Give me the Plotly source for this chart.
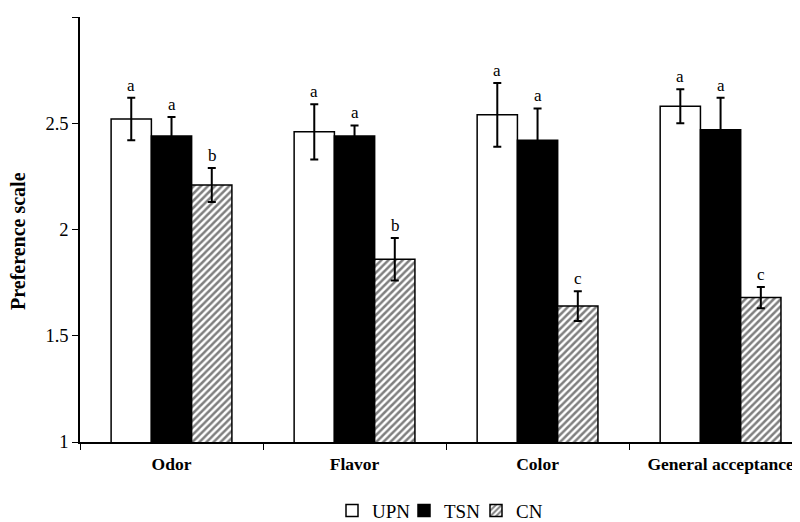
import plotly.graph_objects as go

categories = ["Odor", "Flavor", "Color", "General acceptance"]
upn = [2.52, 2.46, 2.54, 2.58]
upn_err = [0.10, 0.13, 0.15, 0.08]
tsn = [2.44, 2.44, 2.42, 2.47]
tsn_err = [0.09, 0.05, 0.15, 0.15]
cn = [2.21, 1.86, 1.64, 1.68]
cn_err = [0.08, 0.10, 0.07, 0.05]
upn_letters = ["a", "a", "a", "a"]
tsn_letters = ["a", "a", "a", "a"]
cn_letters = ["b", "b", "c", "c"]

FONT = "Liberation Serif"

def err(arr):
    return dict(type="data", array=arr, visible=True, color="black", thickness=2, width=4)

fig = go.Figure()
fig.add_trace(go.Bar(name="UPN", x=categories, y=upn, error_y=err(upn_err),
                     marker=dict(color="white", line=dict(color="black", width=1.5))))
fig.add_trace(go.Bar(name="TSN", x=categories, y=tsn, error_y=err(tsn_err),
                     marker=dict(color="black", line=dict(color="black", width=1.5))))
fig.add_trace(go.Bar(name="CN", x=categories, y=cn, error_y=err(cn_err),
                     marker=dict(color="white", line=dict(color="black", width=1.5),
                                 pattern=dict(shape="/", size=5, solidity=0.5,
                                              fgcolor="black", bgcolor="white"))))

annotations = []
for series, errs, letters, shift in [(upn, upn_err, upn_letters, -40.5),
                                      (tsn, tsn_err, tsn_letters, 0),
                                      (cn, cn_err, cn_letters, 40.5)]:
    for c, v, e, l in zip(categories, series, errs, letters):
        annotations.append(dict(x=c, y=v + e, text=l, showarrow=False, xref="x", yref="y",
                                xshift=shift, yanchor="bottom", yshift=1,
                                font=dict(family=FONT, size=17, color="black")))

annotations.append(dict(text="<b>Preference scale</b>", textangle=-90, showarrow=False,
                        xref="paper", yref="paper", x=0, y=0.473, xshift=-62,
                        xanchor="center", yanchor="middle",
                        font=dict(family=FONT, size=20, color="black")))

fig.update_layout(
    width=792, height=514,
    margin=dict(l=72, r=0, t=9, b=80),
    plot_bgcolor="white", paper_bgcolor="white",
    barmode="group", bargap=0.34, bargroupgap=0,
    font=dict(family=FONT, color="black"),
    annotations=annotations,
    showlegend=True,
    legend=dict(orientation="h", x=0.35, xanchor="left", yref="container", y=0.022, yanchor="middle",
                font=dict(family=FONT, size=19), itemwidth=30, traceorder="normal",
                entrywidth=27, entrywidthmode="pixels"),
)
fig.update_xaxes(range=[-0.5, 3.434], showline=True, linecolor="black", linewidth=1.5,
                 ticks="outside", tickson="boundaries", ticklen=6, tickcolor="black",
                 tickfont=dict(family=FONT, size=17.5, color="black"), ticklabelstandoff=5,
                 showgrid=False, zeroline=False, automargin=False)
fig.update_xaxes(tickvals=categories, ticktext=["<b>%s</b>" % c for c in categories])
fig.update_yaxes(range=[1, 3], tickvals=[1, 1.5, 2, 2.5, 3], ticktext=["1", "1.5", "2", "2.5", "3"],
                 showline=True, linecolor="black", linewidth=1.5,
                 ticks="outside", ticklen=6, tickcolor="black",
                 tickfont=dict(family=FONT, size=18.5, color="black"),
                 showgrid=False, zeroline=False, automargin=False)

fig.write_html("out.html")
